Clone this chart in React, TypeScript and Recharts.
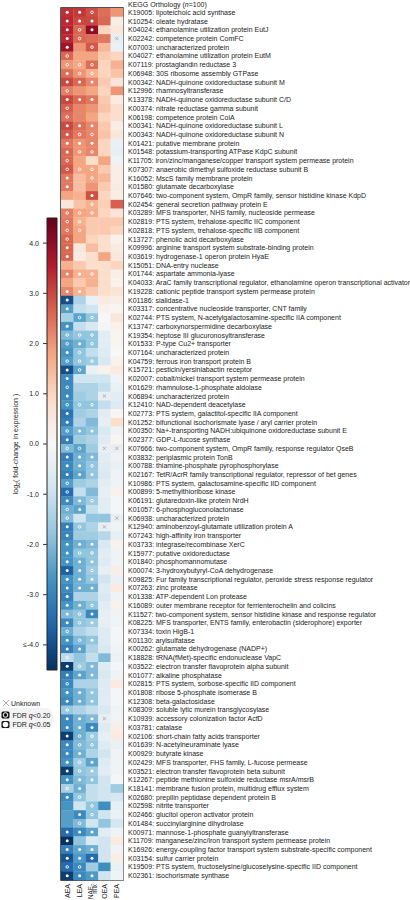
import { ScatterChart, Scatter, XAxis, YAxis, ReferenceArea, BarChart, Bar } from 'recharts'

const FONT = '"Liberation Sans", Arial, Helvetica, sans-serif'

const columns = ['AEA', 'LEA', 'NAE-mix', 'OEA', 'PEA']

const genes = [
  'K19005: lipoteichoic acid synthase',
  'K10254: oleate hydratase',
  'K04024: ethanolamine utilization protein EutJ',
  'K02242: competence protein ComFC',
  'K07003: uncharacterized protein',
  'K04027: ethanolamine utilization protein EutM',
  'K07119: prostaglandin reductase 3',
  'K06948: 30S ribosome assembly GTPase',
  'K00342: NADH-quinone oxidoreductase subunit M',
  'K12996: rhamnosyltransferase',
  'K13378: NADH-quinone oxidoreductase subunit C/D',
  'K00374: nitrate reductase gamma subunit',
  'K06198: competence protein CoiA',
  'K00341: NADH-quinone oxidoreductase subunit L',
  'K00343: NADH-quinone oxidoreductase subunit N',
  'K01421: putative membrane protein',
  'K01548: potassium-transporting ATPase KdpC subunit',
  'K11705: iron/zinc/manganese/copper transport system permease protein',
  'K07307: anaerobic dimethyl sulfoxide reductase subunit B',
  'K16052: MscS family membrane protein',
  'K01580: glutamate decarboxylase',
  'K07646: two-component system, OmpR family, sensor histidine kinase KdpD',
  'K02454: general secretion pathway protein E',
  'K03289: MFS transporter, NHS family, nucleoside permease',
  'K02819: PTS system, trehalose-specific IIC component',
  'K02818: PTS system, trehalose-specific IIB component',
  'K13727: phenolic acid decarboxylase',
  'K09996: arginine transport system substrate-binding protein',
  'K03619: hydrogenase-1 operon protein HyaE',
  'K15051: DNA-entry nuclease',
  'K01744: aspartate ammonia-lyase',
  'K04033: AraC family transcriptional regulator, ethanolamine operon transcriptional activator',
  'K19228: cationic peptide transport system permease protein',
  'K01186: sialidase-1',
  'K03317: concentrative nucleoside transporter, CNT family',
  'K02744: PTS system, N-acetylgalactosamine-specific IIA component',
  'K13747: carboxynorspermidine decarboxylase',
  'K19354: heptose III glucuronosyltransferase',
  'K01533: P-type Cu2+ transporter',
  'K07164: uncharacterized protein',
  'K04759: ferrous iron transport protein B',
  'K15721: pesticin/yersiniabactin receptor',
  'K02007: cobalt/nickel transport system permease protein',
  'K01629: rhamnulose-1-phosphate aldolase',
  'K06894: uncharacterized protein',
  'K12410: NAD-dependent deacetylase',
  'K02773: PTS system, galactitol-specific IIA component',
  'K01252: bifunctional isochorismate lyase / aryl carrier protein',
  'K00350: Na+-transporting NADH:ubiquinone oxidoreductase subunit E',
  'K02377: GDP-L-fucose synthase',
  'K07666: two-component system, OmpR family, response regulator QseB',
  'K03832: periplasmic protein TonB',
  'K00788: thiamine-phosphate pyrophosphorylase',
  'K02167: TetR/AcrR family transcriptional regulator, repressor of bet genes',
  'K10986: PTS system, galactosamine-specific IID component',
  'K00899: 5-methylthioribose kinase',
  'K06191: glutaredoxin-like protein NrdH',
  'K01057: 6-phosphogluconolactonase',
  'K06938: uncharacterized protein',
  'K12940: aminobenzoyl-glutamate utilization protein A',
  'K07243: high-affinity iron transporter',
  'K03733: integrase/recombinase XerC',
  'K15977: putative oxidoreductase',
  'K01840: phosphomannomutase',
  'K00074: 3-hydroxybutyryl-CoA dehydrogenase',
  'K09825: Fur family transcriptional regulator, peroxide stress response regulator',
  'K07263: zinc protease',
  'K01338: ATP-dependent Lon protease',
  'K16089: outer membrane receptor for ferrienterochelin and colicins',
  'K11527: two-component system, sensor histidine kinase and response regulator',
  'K08225: MFS transporter, ENTS family, enterobactin (siderophore) exporter',
  'K07334: toxin HigB-1',
  'K01130: arylsulfatase',
  'K00262: glutamate dehydrogenase (NADP+)',
  'K18828: tRNA(fMet)-specific endonuclease VapC',
  'K03522: electron transfer flavoprotein alpha subunit',
  'K01077: alkaline phosphatase',
  'K02815: PTS system, sorbose-specific IID component',
  'K01808: ribose 5-phosphate isomerase B',
  'K12308: beta-galactosidase',
  'K08309: soluble lytic murein transglycosylase',
  'K10939: accessory colonization factor AcfD',
  'K03781: catalase',
  'K02106: short-chain fatty acids transporter',
  'K01639: N-acetylneuraminate lyase',
  'K00929: butyrate kinase',
  'K02429: MFS transporter, FHS family, L-fucose permease',
  'K03521: electron transfer flavoprotein beta subunit',
  'K12267: peptide methionine sulfoxide reductase msrA/msrB',
  'K18141: membrane fusion protein, multidrug efflux system',
  'K02680: prepilin peptidase dependent protein B',
  'K02598: nitrite transporter',
  'K02466: glucitol operon activator protein',
  'K01484: succinylarginine dihydrolase',
  'K00971: mannose-1-phosphate guanylyltransferase',
  'K11709: manganese/zinc/iron transport system permease protein',
  'K16926: energy-coupling factor transport system substrate-specific component',
  'K03154: sulfur carrier protein',
  'K19509: PTS system, fructoselysine/glucoselysine-specific IID component',
  'K02361: isochorismate synthase',
]

// log2 fold-change per column (null = unknown)
const aea = [
  3.3, 3.4, 3.5, 3.4, 3.8, 2.6, 2.0, 2.5, 3.0, 2.3,
  3.0, 2.7, 2.5, 3.0, 2.8, 2.4, 2.6, 2.6, 2.8, 2.4,
  2.4, 1.8, 0.5, 2.3, 2.4, 2.4, 2.6, 2.6, 2.6, 1.6,
  2.2, 1.8, 2.2, -4.0, -2.5, -1.5, -2.7, -2.0, -2.5, -2.7,
  -2.5, -4.0, -2.9, -2.9, -2.9, -2.7, -3.3, -3.1, -2.5, -3.1,
  -2.0, -3.1, -2.9, -3.1, -2.5, -3.5, -2.9, -2.2, -2.0, -3.1,
  -3.0, -2.7, -2.7, -2.7, -3.7, -2.7, -2.9, -3.1, -2.7, -2.0,
  -2.9, -2.2, -2.7, -3.1, -1.2, -4.3, -3.1, -2.9, -2.7, -2.9,
  -1.7, -2.9, -2.9, -4.3, -2.9, -2.9, -2.7, -4.3, -2.7, -1.5,
  -2.9, -2.7, -2.5, -2.5, -3.5, -4.5, -3.1, -3.9, -3.5, -4.3,
]
const lea = [
  3.2, 3.0, 2.6, 2.6, 2.0, 1.8, 1.8, 2.0, 2.6, 2.0,
  2.6, 2.2, 2.2, 2.5, 2.4, 2.0, 2.0, 1.8, 1.8, 1.4,
  1.4, 1.6, 1.3, 1.8, 1.6, 1.8, 1.8, 0.5, 0.4, 1.2,
  1.6, 1.2, 1.6, -1.4, -1.1, -2.4, -1.1, -1.8, -2.2, -1.8,
  -1.8, -2.4, -0.9, -1.4, -1.6, -1.8, -1.6, -1.4, -2.0, -1.6,
  -2.4, -2.2, -2.2, -2.4, -1.6, -1.1, -2.0, -2.4, -0.9, -1.8,
  -1.6, -2.2, -1.8, -2.2, -2.2, -2.2, -2.2, -1.4, -2.2, -1.8,
  -1.8, -1.4, -2.0, -2.4, -1.8, -1.6, -2.4, -1.4, -2.2, -2.2,
  -1.4, -2.2, -2.2, -2.2, -2.0, -2.2, -1.6, -1.8, -2.0, -2.2,
  -1.8, -0.9, -2.9, -2.0, -2.9, -1.8, -2.4, -2.6, -2.9, -2.9,
]
const nae = [
  2.9, 3.0, 4.0, 2.5, 2.8, 1.8, 2.5, 1.6, 2.2, 1.8,
  2.4, 2.0, 1.8, 2.2, 2.2, 2.2, 2.2, 0.8, 1.8, 1.8,
  2.0, 2.9, 1.6, 1.7, 1.2, 1.2, 1.0, 1.4, 0.8, 0.8,
  1.6, 1.6, 1.2, -0.3, -0.9, -1.8, -0.7, -1.8, -1.8, -1.1,
  -1.6, -0.3, -0.9, -1.4, -1.4, -1.8, -1.4, -2.0, -1.8, -1.4,
  -1.6, -2.0, -1.8, -1.8, -1.4, -2.0, -1.6, -1.1, -1.8, -1.4,
  -1.6, -2.0, -1.8, -1.8, -1.6, -1.8, -2.2, -1.4, -1.8, -2.9,
  -1.6, -1.1, -1.8, -1.4, -1.1, -2.0, -2.0, -1.4, -1.8, -1.8,
  -1.1, -2.0, -2.9, -1.6, -1.8, -1.4, -2.4, -1.6, -1.8, -1.1,
  -1.1, -1.8, -1.8, -0.9, -2.4, -0.7, -2.2, -3.5, -1.6, -2.6,
]
const oea = [
  2.5, 2.6, 1.0, 2.4, 1.5, 1.2, 1.0, 1.0, 1.2, 1.0,
  1.2, 1.3, 1.0, 1.2, 1.3, 1.0, 1.0, 1.8, 1.2, 1.5,
  1.2, 1.0, 1.1, 1.0, 1.2, 1.2, 0.8, 0.8, 1.8, 0.8,
  0.8, 0.8, 0.8, 0.4, 0.2, 0.0, -0.1, -0.5, -0.5, -0.6,
  -0.7, 0.2, -0.9, -1.1, null, -1.1, -0.5, -0.4, -0.7, -0.6,
  null, -0.5, -0.6, -0.7, -0.5, -0.4, -0.5, -0.5, -1.8, null,
  -1.3, -0.7, -0.5, -0.6, -0.4, -0.9, -0.6, -0.7, -0.5, -0.4,
  -0.4, -0.6, -0.6, -0.7, -2.0, -0.6, -0.7, -0.6, -0.6, -0.5,
  -0.7, null, -0.6, -0.4, -0.6, -0.9, -0.6, -0.5, -0.9, -0.9,
  -0.9, -2.8, -0.9, -1.8, -0.5, -0.9, -0.9, -0.9, -2.8, -0.9,
]
const pea = [
  2.0, 0.3, 0.5, null, -0.3, 1.0, 1.6, 1.3, 0.6, 2.0,
  0.4, 0.8, 0.8, 0.3, 0.5, -0.3, -0.4, -0.2, 0.3, 0.3,
  0.4, 0.3, 2.7, 0.6, 1.2, 1.0, 0.2, 0.4, 0.5, 1.0,
  0.3, 0.2, 0.6, 0.3, 0.1, 0.5, 0.2, 0.1, 0.1, 0.0,
  0.2, 0.4, -0.2, -0.3, -0.5, -0.6, 0.1, 0.8, -0.2, 0.1,
  null, -0.2, -0.3, -0.2, -0.2, 0.2, -0.1, -0.1, null, -0.2,
  -0.4, 0.2, -0.2, -0.2, 0.3, -0.3, 0.4, -0.2, 0.2, -0.2,
  -0.2, -0.1, -0.1, -0.2, -0.3, -0.1, -0.2, 0.4, -0.1, -0.1,
  -0.2, -0.2, 0.3, 0.4, -0.3, -0.2, -0.2, -0.2, -0.1, -1.6,
  -0.8, -0.4, -0.3, -0.8, -0.2, 0.4, -0.2, 0.3, -0.3, -0.2,
]

// f = FDR q<0.05, r = FDR q<0.20, x = unknown, . = none
const aeaSig = 'fffffrrffr' + 'frrffffrrf' + 'f..rrrrff.' + 'f.fff.frrf' + 'rffrfrffrf' +
  'rfffrrfrrf' + 'ffffffffff' + 'frffrffrff' + 'rffffffffr' + 'f...ffffrf'
const leaSig = 'ffrr..rrf.' + 'f..frfr.r.' + '...rrr....' + 'f.f..r.rfr' + 'rr...r..f.' +
  'rfff..ff.r' + '.frffff.fr' + 'r.rf.rf.ff' + '.ffrrfrrff' + 'r.frf.ffrf'
const naeSig = 'rff.r.rrf.' + 'f..frfr.rr' + '.frr......' + 'r....r.rr.' + 'r....r..f.' +
  '.frf..r...' + '.frfrff.rf' + 'f.f..ff.ff' + '.ffrr.fff.' + '.rr.f.ff.f'
const oeaSig = '..........' + '..........' + '..........' + '..........' + '....x.....' +
  'x........x' + '..........' + '..........' + '.x........' + '..........'
const peaSig = '...x......' + '..........' + '..........' + '..........' + '..........' +
  'x.......x.' + '..........' + '..........' + '..........' + '..........'

const colorbarTicks = [-4, -3, -2, -1, 0, 1, 2, 3, 4]
const colorbarSpan = [{ name: 'log2FC', span: [-4.5, 4.5] }]

const values = [aea, lea, nae, oea, pea]
const sigs = [aeaSig, leaSig, naeSig, oeaSig, peaSig]

const cells = genes.flatMap((_, row) =>
  columns.map((_c, col) => ({ row, col, v: values[col][row], s: sigs[col][row] }))
)

const RDBU = ['#053061', '#2166ac', '#4393c3', '#92c5de', '#d1e5f0', '#f7f7f7', '#fddbc7', '#f4a582', '#d6604d', '#b2182b', '#67001f']

function hex(c: string) {
  return [1, 3, 5].map((i) => parseInt(c.slice(i, i + 2), 16))
}

function heat(v: number) {
  const t = Math.max(0, Math.min(1, (v + 4.5) / 9)) * 10
  const i = Math.min(9, Math.floor(t))
  const f = t - i
  const a = hex(RDBU[i])
  const b = hex(RDBU[i + 1])
  const m = a.map((x, k) => Math.round(x + (b[k] - x) * f))
  return `rgb(${m[0]},${m[1]},${m[2]})`
}

const W = 410
const H = 900
const PLOT_LEFT = 61
const AXIS_W = 287
const PLOT_TOP = 8
const XAXIS_H = 20
const CELL_W = (W - PLOT_LEFT - AXIS_W) / columns.length
const CELL_H = (H - PLOT_TOP - XAXIS_H) / genes.length

// eslint-disable-next-line @typescript-eslint/no-explicit-any
function HeatCell(props: any) {
  const { cx, cy, payload } = props
  const fill = payload.v == null ? '#e9eef2' : heat(payload.v)
  return (
    <g>
      <rect x={cx - CELL_W / 2} y={cy - CELL_H / 2} width={CELL_W + 0.3} height={CELL_H + 0.3} fill={fill} />
      {payload.s === 'f' && <circle cx={cx} cy={cy} r={1.5} fill="#fff" />}
      {payload.s === 'r' && <circle cx={cx} cy={cy} r={1.3} fill="none" stroke="#fff" strokeWidth={0.9} />}
      {payload.s === 'x' && (
        <path d={`M${cx - 1.6},${cy - 1.6}L${cx + 1.6},${cy + 1.6}M${cx - 1.6},${cy + 1.6}L${cx + 1.6},${cy - 1.6}`} stroke="#9a9a9a" strokeWidth={0.7} />
      )}
    </g>
  )
}

// eslint-disable-next-line @typescript-eslint/no-explicit-any
function GeneTick({ x, y, payload }: any) {
  return (
    <text x={x} y={y} dy={2.5} fontSize={7} fontFamily={FONT} fill="#1a1a1a" textAnchor="start">
      {genes[payload.value]}
    </text>
  )
}

// eslint-disable-next-line @typescript-eslint/no-explicit-any
function ColumnTick({ x, y, payload }: any) {
  const name = columns[payload.value]
  if (name === 'NAE-mix') {
    return (
      <g>
        <text transform={`translate(${x + 0.6},${y}) rotate(-90)`} fontSize={6.3} fontFamily={FONT} fill="#1a1a1a" textAnchor="end">NAE-</text>
        <text transform={`translate(${x + 5},${y}) rotate(-90)`} fontSize={6.3} fontFamily={FONT} fill="#1a1a1a" textAnchor="end">mix</text>
      </g>
    )
  }
  return (
    <text transform={`translate(${x + 2.5},${y}) rotate(-90)`} fontSize={7} fontFamily={FONT} fill="#1a1a1a" textAnchor="end">
      {name}
    </text>
  )
}

function Colorbar() {
  return (
    <BarChart width={60} height={H} data={colorbarSpan} margin={{ top: 218, right: 3, bottom: 230, left: 0 }} barCategoryGap={0}>
      <defs>
        <linearGradient id="cbGrad" x1="0" y1="0" x2="0" y2="1">
          {RDBU.slice().reverse().map((c, i) => (
            <stop key={c} offset={`${i * 10}%`} stopColor={c} />
          ))}
        </linearGradient>
      </defs>
      <XAxis dataKey="name" hide />
      <YAxis
        type="number"
        domain={[-4.5, 4.5]}
        ticks={colorbarTicks}
        interval={0}
        width={47}
        axisLine={false}
        tickSize={4}
        tickMargin={4}
        tickLine={{ stroke: '#333' }}
        tick={{ fontSize: 7, fill: '#222', fontFamily: FONT }}
        tickFormatter={(v: number) => (v === -4 ? '≤-4.0' : v.toFixed(1))}
      />
      <Bar dataKey="span" fill="url(#cbGrad)" stroke="#222" strokeWidth={1} isAnimationActive={false} />
    </BarChart>
  )
}

function Overlay() {
  const t = { fontSize: 7, fontFamily: FONT, fill: '#222' }
  return (
    <svg width={W} height={H} style={{ position: 'absolute', left: 0, top: 0, pointerEvents: 'none' }}>
      <text x={128} y={6.5} {...t}>
        KEGG Orthology (<tspan fontStyle="italic">n</tspan>=100)
      </text>
      <text transform="translate(18,444) rotate(-90)" textAnchor="middle" {...t}>
        log<tspan fontSize={5} dy={1.5}>2</tspan>
        <tspan dy={-1.5}>( fold-change in expression )</tspan>
      </text>
      <polygon points="0,708 49,708 55,718.5 49,729 0,729" fill="#f3f3f3" />
      <path d="M3,700 L9,706 M3,706 L9,700" stroke="#999" strokeWidth={0.8} />
      <text x={11} y={705.5} {...t}>Unknown</text>
      <rect x={1.5} y={711.5} width={8} height={7} rx={1.5} fill="#111" />
      <circle cx={5.5} cy={715} r={2.3} fill="none" stroke="#fff" strokeWidth={1} />
      <text x={12.5} y={717.5} {...t}>
        FDR <tspan fontStyle="italic">q</tspan>&lt;0.20
      </text>
      <rect x={1.5} y={721} width={8} height={7} rx={1.5} fill="#111" />
      <circle cx={5.5} cy={724.5} r={2.8} fill="#fff" />
      <text x={12.5} y={727} {...t}>
        FDR <tspan fontStyle="italic">q</tspan>&lt;0.05
      </text>
    </svg>
  )
}

export default function App() {
  return (
    <div style={{ position: 'absolute', left: 0, top: 0, width: W, height: H, background: '#fff' }}>
      <div style={{ position: 'absolute', left: 0, top: 0 }}>
        <Colorbar />
      </div>
      <div style={{ position: 'absolute', left: 0, top: 0 }}>
        <ScatterChart width={W} height={H} margin={{ top: PLOT_TOP, right: 0, bottom: 0, left: PLOT_LEFT }}>
          <XAxis
            type="number"
            dataKey="col"
            domain={[-0.5, columns.length - 0.5]}
            ticks={columns.map((_, i) => i)}
            interval={0}
            height={XAXIS_H}
            axisLine={false}
            tickLine={false}
            tickSize={0}
            tickMargin={4}
            tick={<ColumnTick />}
          />
          <YAxis
            type="number"
            dataKey="row"
            orientation="right"
            reversed
            domain={[-0.5, genes.length - 0.5]}
            ticks={genes.map((_, i) => i)}
            interval={0}
            width={AXIS_W}
            axisLine={false}
            tickLine={false}
            tickSize={0}
            tickMargin={5}
            tick={<GeneTick />}
          />
          <Scatter data={cells} shape={<HeatCell />} isAnimationActive={false} />
          <ReferenceArea
            x1={-0.5}
            x2={columns.length - 0.5}
            y1={-0.5}
            y2={genes.length - 0.5}
            fill="none"
            stroke="#1a1a1a"
            strokeWidth={1.4}
          />
        </ScatterChart>
      </div>
      <Overlay />
    </div>
  )
}
